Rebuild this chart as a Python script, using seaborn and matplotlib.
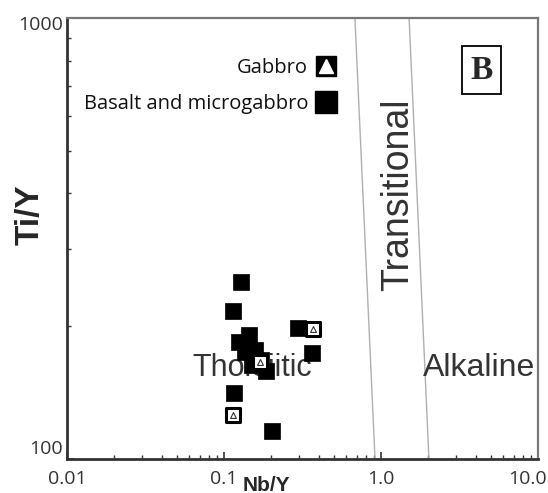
import matplotlib
matplotlib.use("Agg")
import matplotlib.pyplot as plt
import matplotlib.transforms as mtransforms
from matplotlib.ticker import NullFormatter, FixedLocator, FixedFormatter
import seaborn as sns
import pandas as pd
from matplotlib.lines import Line2D

# ---- data ----
basalt_nb = [0.128, 0.114, 0.296, 0.364, 0.116, 0.202, 0.144, 0.125, 0.136, 0.157, 0.185, 0.151, 0.172]
basalt_ti = [252, 217, 198, 174, 141, 116, 191, 184, 175, 177, 158, 163, 168]
gabbro_nb = [0.369, 0.170, 0.114]
gabbro_ti = [197, 166, 126]

# field boundaries (Nb/Y at Ti/Y = 1000 and 100)
bound1_nb = [0.682, 0.916]
bound2_nb = [1.51, 2.02]
bound_ti = [1000, 100]

x_ticks = [0.01, 0.1, 1.0, 10.0]
x_labels = ["0.01", "0.1", "1.0", "10.0"]
y_ticks = [100, 1000]
y_labels = ["100", "1000"]

sns.set_style("white")
plt.rcParams['font.family'] = ['Liberation Sans', 'DejaVu Sans']

fig = plt.figure(figsize=(5.48, 4.93), dpi=100)
ax = fig.add_axes([67/548, 1-459/493, (538-67)/548, (459-18)/493])
ax.set_xscale("log")
ax.set_yscale("log")
ax.set_xlim(0.01, 10.0)
ax.set_ylim(100, 1000)

# boundaries
ax.plot(bound1_nb, bound_ti, color="#b0b0b0", lw=1.0, zorder=1)
ax.plot(bound2_nb, bound_ti, color="#b0b0b0", lw=1.0, zorder=1)

# field labels
ax.text(0.151, 161, "Tholeiitic", fontsize=22, color="#333333", ha="center", va="center", zorder=2)
ax.text(1.28, 397, "Transitional", fontsize=27, color="#333333", ha="center", va="center",
        rotation=90, zorder=2)
ax.text(4.2, 161, "Alkaline", fontsize=23, color="#333333", ha="center", va="center", zorder=2)

# data
dfb = pd.DataFrame({"nb": basalt_nb, "ti": basalt_ti})
dfg = pd.DataFrame({"nb": gabbro_nb, "ti": gabbro_ti})
sns.scatterplot(data=dfb, x="nb", y="ti", marker="s", s=130, color="black",
                edgecolor="black", linewidth=0.5, ax=ax, zorder=3, legend=False)
sns.scatterplot(data=dfg, x="nb", y="ti", marker="s", s=100, color="white",
                edgecolor="black", linewidth=2.2, ax=ax, zorder=4, legend=False)
sns.scatterplot(data=dfg, x="nb", y="ti", marker="^", s=18, color="white",
                edgecolor="#333333", linewidth=0.8, ax=ax, zorder=5, legend=False)

# legend
h_g = Line2D([], [], marker="^", markersize=10, markerfacecolor="white", markeredgecolor="white",
             linestyle="none")
h_g_box = Line2D([], [], marker="s", markersize=14, markerfacecolor="black",
                 markeredgecolor="black", linestyle="none")
h_b = Line2D([], [], marker="s", markersize=16, markerfacecolor="black",
             markeredgecolor="black", linestyle="none")
leg = ax.legend(handles=[(h_g_box, h_g), h_b], labels=["Gabbro", "Basalt and microgabbro"],
                loc="upper right", bbox_to_anchor=(0.572, 0.909), frameon=False,
                markerfirst=False, handlelength=1.0, handletextpad=0.4,
                labelspacing=0.8, borderpad=0, borderaxespad=0,
                prop={"family": "Open Sans", "size": 14.5})
for t in leg.get_texts():
    t.set_color("#111111")

# panel label
ax.text(0.881, 0.882, "B", transform=ax.transAxes, fontsize=24, fontweight="bold",
        family="Liberation Serif", ha="center", va="center",
        bbox=dict(boxstyle="square,pad=0.25", facecolor="white", edgecolor="black", lw=1.3))

# ticks
ax.xaxis.set_major_locator(FixedLocator(x_ticks))
ax.xaxis.set_major_formatter(FixedFormatter(x_labels))
ax.yaxis.set_major_locator(FixedLocator(y_ticks))
ax.yaxis.set_major_formatter(FixedFormatter(y_labels))
ax.xaxis.set_minor_formatter(NullFormatter())
ax.yaxis.set_minor_formatter(NullFormatter())
ax.tick_params(axis="both", which="both", direction="in", labelsize=14, labelcolor="#333333",
               color="#333333", left=True, bottom=True)
ax.tick_params(which="major", length=5, width=1.2)
ax.tick_params(which="minor", length=3, width=1.0)
ax.tick_params(axis="x", pad=8)
ax.tick_params(axis="y", pad=3)
fig.canvas.draw()
for lab in ax.get_xticklabels() + ax.get_yticklabels():
    lab.set_family("Open Sans")
# shift last x label left so it stays inside the figure
last = ax.get_xticklabels()[-1]
last.set_transform(last.get_transform() + mtransforms.ScaledTranslation(-11/100, 0, fig.dpi_scale_trans))
# y labels sit inside the axis range: 100 above the bottom, 1000 below the top
ylabs = ax.get_yticklabels()
ylabs[0].set_va("bottom")
ylabs[0].set_transform(ylabs[0].get_transform() + mtransforms.ScaledTranslation(0, 1/100, fig.dpi_scale_trans))
ylabs[-1].set_va("top")
ylabs[-1].set_transform(ylabs[-1].get_transform() + mtransforms.ScaledTranslation(0, 2/100, fig.dpi_scale_trans))

ax.set_xlabel("Nb/Y", fontsize=15, fontweight="bold")
ax.set_ylabel("Ti/Y", fontsize=24, fontweight="bold")
ax.xaxis.set_label_coords(0.4225, -0.059)
ax.yaxis.set_label_coords(-0.0786, 0.553)
ax.xaxis.label.set_va("center")
ax.yaxis.label.set_va("center")

ax.spines["left"].set_color("#333333")
ax.spines["bottom"].set_color("#333333")
ax.spines["left"].set_linewidth(2.0)
ax.spines["bottom"].set_linewidth(2.0)
ax.spines["top"].set_color("#777777")
ax.spines["right"].set_color("#777777")
ax.spines["top"].set_linewidth(1.6)
ax.spines["right"].set_linewidth(1.6)

fig.savefig("out.png", dpi=100)
